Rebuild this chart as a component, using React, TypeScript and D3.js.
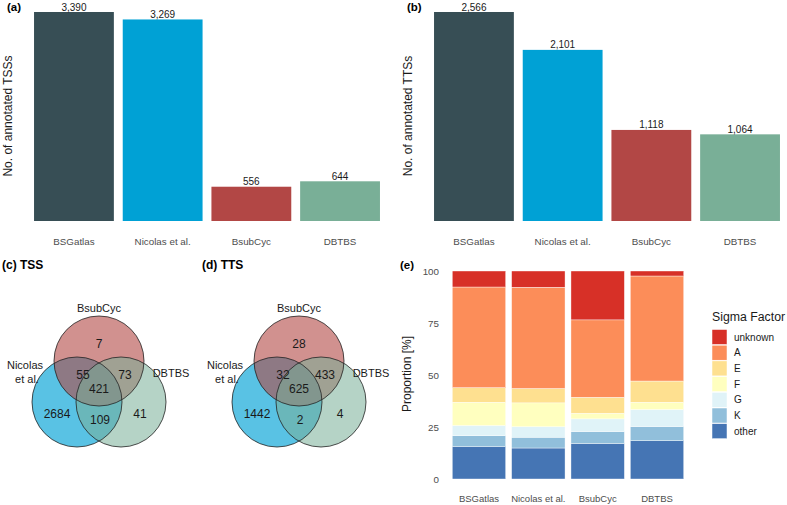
import React from "react";
import * as d3 from "d3";

const sources = ["BSGatlas", "Nicolas et al.", "BsubCyc", "DBTBS"];
const tssCounts = [3390, 3269, 556, 644];
const ttsCounts = [2566, 2101, 1118, 1064];
const sourceColors = ["#374E55", "#00A1D5", "#B24745", "#79AF97"];

// Venn regions: [onlyBsubCyc, Nicolas∩BsubCyc, BsubCyc∩DBTBS, all, onlyNicolas, Nicolas∩DBTBS, onlyDBTBS]
const vennTSS = [7, 55, 73, 421, 2684, 109, 41];
const vennTTS = [28, 32, 433, 625, 1442, 2, 4];

const sigmaFactors = ["unknown", "A", "E", "F", "G", "K", "other"];
const sigmaColors = ["#d73027", "#fc8d59", "#fee090", "#ffffbf", "#e0f3f8", "#91bfdb", "#4575b4"];
// per source, in %
const propOther = [15.5, 14.9, 17.1, 18.4];
const propK = [5.3, 5.2, 5.7, 6.8];
const propG = [4.9, 5.0, 6.1, 8.2];
const propF = [11.2, 11.5, 2.7, 3.5];
const propE = [7.0, 6.9, 7.7, 10.2];
const propA = [48.4, 48.7, 37.2, 50.5];
const propUnknown = [7.7, 7.8, 23.5, 2.4];
const yTicksE = [0, 25, 50, 75, 100];

const FONT = "'Liberation Sans', Arial, Helvetica, sans-serif";
const fmt = d3.format(",");

function BarPanel({ counts, x0, x1, label, ytitle, titleX }: any) {
  const x = d3.scaleBand<string>().domain(sources).range([x0, x1]).paddingInner(0.1).paddingOuter(0.05);
  const y = d3.scaleLinear().domain([0, d3.max(counts) as number]).range([221, 12]);
  return (
    <g>
      <text x={titleX} y={11} fontSize={11.5} fontWeight="bold" fontFamily={FONT}>{label}</text>
      <text transform={`translate(${x0 - 17.5},116) rotate(-90)`} textAnchor="middle" fontSize={12} fontFamily={FONT} fill="#1a1a1a">{ytitle}</text>
      {sources.map((s, i) => (
        <g key={s}>
          <rect x={x(s)} y={y(counts[i])} width={x.bandwidth()} height={y(0) - y(counts[i])} fill={sourceColors[i]} />
          <text x={(x(s) as number) + x.bandwidth() / 2} y={y(counts[i]) - 1.5} textAnchor="middle" fontSize={10} fontFamily={FONT} fill="#1a1a1a">{fmt(counts[i])}</text>
          <text x={(x(s) as number) + x.bandwidth() / 2} y={245} textAnchor="middle" fontSize={9.8} fontFamily={FONT} fill="#4d4d4d">{s}</text>
        </g>
      ))}
    </g>
  );
}

function Venn({ counts, ox, label }: any) {
  const r = 45;
  const top = { x: ox + 99, y: 361 };
  const left = { x: ox + 77, y: 402 };
  const right = { x: ox + 121, y: 402 };
  const pos = [
    [top.x, 343],
    [ox + 83, 374],
    [ox + 125, 374],
    [ox + 99, 388],
    [ox + 57, 413],
    [ox + 100, 419],
    [ox + 140, 413],
  ];
  return (
    <g fontFamily={FONT}>
      <text x={ox + 2} y={269} fontSize={12} fontWeight="bold">{label}</text>
      <circle cx={left.x} cy={left.y} r={r} fill="#00A1D5" fillOpacity={0.65} />
      <circle cx={top.x} cy={top.y} r={r} fill="#B24745" fillOpacity={0.6} />
      <circle cx={right.x} cy={right.y} r={r} fill="#79AF97" fillOpacity={0.55} />
      {[left, top, right].map((c, i) => (
        <circle key={i} cx={c.x} cy={c.y} r={r} fill="none" stroke="#222" strokeWidth={0.8} />
      ))}
      <text x={top.x} y={312} textAnchor="middle" fontSize={11} fill="#1a1a1a">BsubCyc</text>
      <text x={ox + 25} y={369} textAnchor="middle" fontSize={11} fill="#1a1a1a">Nicolas</text>
      <text x={ox + 27} y={383} textAnchor="middle" fontSize={11} fill="#1a1a1a">et al.</text>
      <text x={ox + 171} y={377} textAnchor="middle" fontSize={11} fill="#1a1a1a">DBTBS</text>
      {counts.map((v: number, i: number) => (
        <text key={i} x={pos[i][0]} y={pos[i][1] + 4.5} textAnchor="middle" fontSize={12} fill="#1a1a1a">{v}</text>
      ))}
    </g>
  );
}

function StackPanel() {
  const x = d3.scaleBand<string>().domain(sources).range([449.3, 686.7]).paddingInner(0.1).paddingOuter(0.05);
  const y = d3.scaleLinear().domain([0, 100]).range([479, 271]);
  const rows = sources.map((s, i) => ({
    source: s,
    other: propOther[i], K: propK[i], G: propG[i], F: propF[i], E: propE[i], A: propA[i], unknown: propUnknown[i],
  }));
  const keys = [...sigmaFactors].reverse();
  const stack = d3.stack<any>().keys(keys)(rows);
  return (
    <g fontFamily={FONT}>
      <text x={400} y={269} fontSize={11.5} fontWeight="bold">(e)</text>
      <text transform="translate(411,374) rotate(-90)" textAnchor="middle" fontSize={12} fill="#1a1a1a">Proportion [%]</text>
      {yTicksE.map((t) => (
        <text key={t} x={439} y={y(t) + 3.5} textAnchor="end" fontSize={9.8} fill="#4d4d4d">{t}</text>
      ))}
      {stack.map((layer) => {
        const ci = sigmaFactors.indexOf(layer.key);
        return layer.map((d: any, j: number) => (
          <rect key={layer.key + j} x={x(sources[j])} y={y(d[1])} width={x.bandwidth()} height={y(d[0]) - y(d[1])}
            fill={sigmaColors[ci]} stroke="#ffffff" strokeWidth={0.4} />
        ));
      })}
      {sources.map((s) => (
        <text key={s} x={(x(s) as number) + x.bandwidth() / 2} y={502} textAnchor="middle" fontSize={9.5} fill="#4d4d4d">{s}</text>
      ))}
      <text x={712} y={321} fontSize={12.3} fill="#1a1a1a">Sigma Factor</text>
      {sigmaFactors.map((f, i) => (
        <g key={f}>
          <rect x={712} y={329.5 + i * 15.7} width={15} height={15} fill={sigmaColors[i]} stroke="#ffffff" strokeWidth={0.5} />
          <text x={734} y={329.5 + i * 15.7 + 11} fontSize={10} fill="#1a1a1a">{f}</text>
        </g>
      ))}
    </g>
  );
}

export default function App() {
  return (
    <svg width={787} height={505} style={{ position: "absolute", left: 0, top: 0, background: "#fff" }}>
      <rect width={787} height={505} fill="#fff" />
      <BarPanel counts={tssCounts} x0={29.6} x1={384.4} label="(a)" ytitle="No. of annotated TSSs" titleX={7} />
      <BarPanel counts={ttsCounts} x0={429.6} x1={784.4} label="(b)" ytitle="No. of annotated TTSs" titleX={407} />
      <Venn counts={vennTSS} ox={0} label="(c) TSS" />
      <Venn counts={vennTTS} ox={200} label="(d) TTS" />
      <StackPanel />
    </svg>
  );
}
